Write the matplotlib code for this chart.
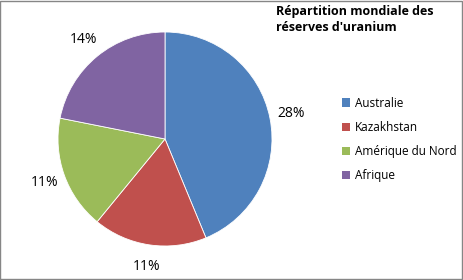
import matplotlib.pyplot as plt
from matplotlib.patches import Rectangle, Patch

# donnees
regions = ['Australie', 'Kazakhstan', 'Amérique du Nord', 'Afrique']
parts = [28, 11, 11, 14]
couleurs = ['#4F81BD', '#C0504D', '#9BBB59', '#8064A2']
titre = "Répartition mondiale des\nréserves d'uranium"

plt.rcParams['font.family'] = ['Open Sans', 'DejaVu Sans']

fig = plt.figure(figsize=(4.63, 2.80), dpi=100)
W, H = 463, 280
cx, cy, r = 165, 139, 107
ax = fig.add_axes([(cx - r) / W, (H - cy - r) / H, 2 * r / W, 2 * r / H])
wedges, texts = ax.pie(parts, colors=couleurs, startangle=90, counterclock=False,
                       labels=[f'{p}%' for p in parts], labeldistance=1.2,
                       wedgeprops=dict(linewidth=0.6, edgecolor='white'),
                       textprops=dict(fontsize=10))
for t in texts:
    t.set_horizontalalignment('center')
ax.set_xlim(-1, 1)
ax.set_ylim(-1, 1)
ax.set_aspect('equal')

# titre
fig.text(276 / W, 1 - 5 / H, titre, fontsize=9, fontweight='bold',
         ha='left', va='top', linespacing=1.3)

# legende
handles = [Patch(facecolor=c, edgecolor='none') for c in couleurs]
fig.legend(handles, regions, loc='upper left', bbox_to_anchor=(331 / W, 1 - 86 / H),
           frameon=False, fontsize=8.5, handlelength=0.7, handleheight=0.7,
           handletextpad=0.4, labelspacing=0.95)

# cadre
fig.patches.append(Rectangle((0.001, 0.002), 0.997, 0.995, transform=fig.transFigure,
                             fill=False, edgecolor='#868686', linewidth=1))

fig.savefig('out.png', dpi=100)
